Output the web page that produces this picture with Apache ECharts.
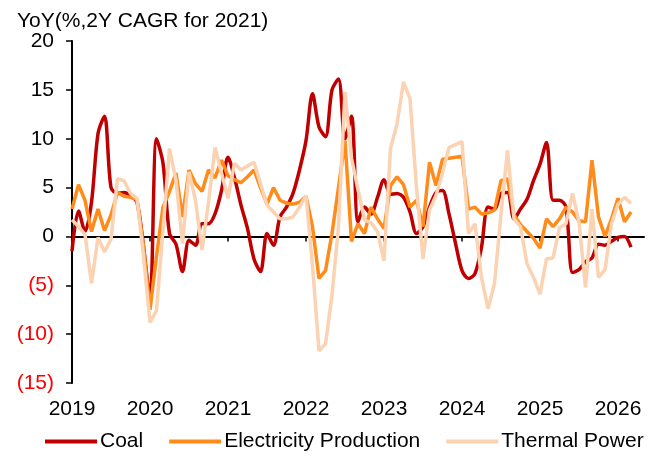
<!DOCTYPE html>
<html>
<head>
<meta charset="utf-8">
<script src="https://cdn.jsdelivr.net/npm/echarts@6/dist/echarts.min.js"></script>
<style>
  html, body { margin: 0; padding: 0; background: #fff; }
  #container { width: 667px; height: 459px; }
</style>
</head>
<body>
<div id="container"></div>
<script>
// years shown on the x axis, monthly data starts Jan 2019
var years = ['2019', '2020', '2021', '2022', '2023', '2024', '2025', '2026'];
var seriesNames = ['Coal', 'Electricity Production', 'Thermal Power'];

// YoY % (2Y CAGR for 2021), monthly Jan 2019 - Mar 2026
var coal = [
  -1.5, 2.6, 0.5, 3.5, 10.5, 12.3, 5.0, 4.4, 4.5, 4.2, 3.5, -1.0,
  -6.5, 10.0, 7.5, 0.3, -0.8, -3.6, -0.4, -0.9, 1.3, 1.3, 2.3, 4.7,
  8.1, 6.0, 3.2, 0.8, -2.3, -3.6, 0.3, -0.9, 2.0, 3.0, 4.4, 6.8,
  9.8, 14.6, 11.2, 10.2, 15.0, 16.1, 10.0, 12.3, 1.5, 3.0, 2.3, 4.0,
  5.8, 4.3, 4.4, 4.0, 2.5, 0.3, 1.0, 3.0, 4.5, 4.7, 2.3, -0.7,
  -3.5, -4.3, -3.8, -1.1, 3.0, 2.8, 4.4, 4.5, 1.8, 2.8, 3.8, 5.7,
  7.4, 9.6, 3.7, 3.7, 3.0, -3.7, -3.4, -2.6, -2.2, -0.8, -0.9, -0.5,
  -0.1, 0.0, -1.1
];
var electricity = [
  2.8, 5.3, 3.7, 0.5, 2.8, 0.6, 2.2, 4.5, 4.1, 4.0, 3.8, -1.0,
  -7.5, -2.0, 3.0, 4.6, 6.5, 2.0, 6.8, 5.4, 4.6, 6.8, 6.0, 7.8,
  6.2, 5.8, 5.5, 6.1, 6.8, 5.0, 3.3, 5.0, 3.7, 3.4, 3.3, 3.5,
  4.1, 1.0, -4.3, -3.5, 0.3, 5.0, 9.8, -0.5, 1.3, 0.3, 3.0, 1.8,
  0.8, 5.2, 6.1, 5.3, 3.0, 3.7, 1.0, 7.6, 5.2, 7.9, 8.0, 8.1,
  8.2, 2.8, 3.0, 2.3, 2.4, 2.7, 5.7, 5.9, 2.2, 1.2, 0.5, -0.2,
  -1.2, 1.8, 1.0, 1.8, 3.0, 2.5, 1.6, 1.5, 7.8, 2.0, 0.0, 1.8,
  3.9, 1.5, 2.5
];
var thermal = [
  1.7, 1.0, 0.2, -4.8, -0.1, -1.6, -0.3, 5.9, 5.7, 4.4, 3.9, -2.0,
  -8.8, -7.6, 0.7, 9.0, 5.7, -0.7, 6.6, 3.7, -1.4, 3.5, 9.1, 6.5,
  3.9, 7.5, 6.8, 7.2, 7.6, 5.4, 3.2, 2.5, 1.8, 1.8, 2.0, 3.0,
  4.2, -3.0, -11.7, -11.0, -6.0, 1.0, 14.8, 8.0, 4.8, 1.7, 1.4, 0.5,
  -2.5, 9.0, 11.5, 15.8, 14.1, 5.0, -2.3, 2.7, 4.2, 6.5, 9.1, 9.4,
  9.7, 0.3, 1.3, -4.2, -7.4, -4.8, 2.3, 8.8, 1.8, 1.0, -2.8, -4.2,
  -5.9, -2.3, -2.2, 0.9, 1.3, 4.4, 1.5, -5.2, 2.8, -4.2, -3.4, 1.3,
  3.3, 4.0, 3.4
];
var colors = ['#C00000', '#FF8C1A', '#FBD2B2'];

// month categories, axis runs two months past the last data point
var months = [];
for (var i = 0; i < coal.length + 2; i++) {
  var y = years[0] * 1 + Math.floor(i / 12);
  months.push(y + '-' + (i % 12 + 1));
}

var font = 'Liberation Sans, Arial, sans-serif';
var isYearStart = function (index) { return index % 12 === 0; };

var myChart = echarts.init(document.getElementById('container'), null, {renderer: 'canvas'});
var option = {
  animation: false,
  color: colors,
  title: {
    text: 'YoY(%,2Y CAGR for 2021)',
    left: 12,
    top: 6,
    textStyle: {fontFamily: font, fontSize: 21, fontWeight: 'normal', color: '#000'}
  },
  legend: {
    data: seriesNames,
    left: 40,
    top: 426,
    icon: 'rect',
    itemWidth: 52,
    itemHeight: 4,
    itemGap: 26,
    textStyle: {fontFamily: font, fontSize: 21, color: '#000', padding: [0, 0, 0, -2]}
  },
  grid: {left: 72, right: 23, top: 41, bottom: 76, containLabel: false},
  xAxis: [{
    type: 'category',
    data: months,
    boundaryGap: false,
    position: 'bottom',
    axisLine: {show: false, onZero: false},
    axisTick: {show: false},
    splitLine: {show: false},
    axisLabel: {
      interval: isYearStart,
      formatter: function (v) { return v.slice(0, 4); },
      fontFamily: font, fontSize: 21, color: '#000', margin: 16
    }
  }, {
    // zero line with year ticks
    type: 'category',
    data: months,
    boundaryGap: false,
    position: 'bottom',
    axisLine: {show: true, onZero: true, onZeroAxisIndex: 0, lineStyle: {color: '#000', width: 2}},
    axisTick: {show: true, interval: isYearStart, length: 5, lineStyle: {color: '#000', width: 1.5}},
    axisLabel: {show: false},
    splitLine: {show: false}
  }],
  yAxis: {
    type: 'value',
    min: -15,
    max: 20,
    interval: 5,
    axisLine: {show: true, lineStyle: {color: '#000', width: 2}},
    axisTick: {show: true, length: 6, lineStyle: {color: '#000', width: 1.5}},
    splitLine: {show: false},
    axisLabel: {
      fontFamily: font, fontSize: 21, margin: 18,
      formatter: function (v) { return v < 0 ? '(' + (-v) + ')' : String(v); },
      color: function (v) { return v < 0 ? '#FF0000' : '#000'; }
    }
  },
  series: [
    {name: seriesNames[0], type: 'line', data: coal, symbol: 'none', smooth: 0.3,
     lineStyle: {width: 3.5, color: colors[0]}},
    {name: seriesNames[1], type: 'line', data: electricity, symbol: 'none',
     lineStyle: {width: 3.5, color: colors[1]}},
    {name: seriesNames[2], type: 'line', data: thermal, symbol: 'none',
     lineStyle: {width: 3.5, color: colors[2]}}
  ]
};
myChart.setOption(option);
</script>
</body>
</html>
